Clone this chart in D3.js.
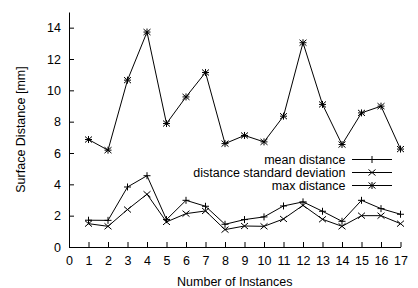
<!DOCTYPE html>
<html>
<head>
<meta charset="utf-8">
<script src="https://cdn.jsdelivr.net/npm/d3@7"></script>
<style>
body { margin: 0; background: #fff; }
svg { display: block; font-family: "Liberation Sans", Arial, sans-serif; }
</style>
</head>
<body>
<div id="chart"></div>
<script>
var instances = d3.range(1, 18);
var meanDist = [1.71, 1.70, 3.83, 4.55, 1.75, 2.98, 2.60, 1.45, 1.75, 1.92, 2.62, 2.88, 2.28, 1.64, 2.98, 2.45, 2.09];
var stdDist  = [1.49, 1.32, 2.39, 3.37, 1.60, 2.13, 2.30, 1.11, 1.34, 1.32, 1.79, 2.66, 1.77, 1.32, 2.00, 2.00, 1.49];
var maxDist  = [6.86, 6.18, 10.65, 13.72, 7.88, 9.58, 11.14, 6.60, 7.12, 6.71, 8.35, 13.04, 9.10, 6.54, 8.56, 8.99, 6.25];
var xTicks = d3.range(0, 18);
var yTicks = [0, 2, 4, 6, 8, 10, 12, 14];
var seriesNames = ["mean distance", "distance standard deviation", "max distance"];

var W = 418, H = 288;
var margin = {top: 12, right: 18, bottom: 41, left: 69};

var x = d3.scaleLinear().domain([0, 17]).range([margin.left, 400.5]);
var y = d3.scaleLinear().domain([0, 15]).range([H - margin.bottom, margin.top]);

var svg = d3.select("#chart").append("svg")
    .attr("width", W).attr("height", H);

// axes (gnuplot style, ticks pointing inward)
var xAxis = g => g
    .attr("transform", `translate(0,${y(0)})`)
    .call(d3.axisBottom(x).tickValues(xTicks).tickSizeInner(-5).tickSizeOuter(0).tickPadding(9))
var yAxis = g => g
    .attr("transform", `translate(${x(0)},0)`)
    .call(d3.axisLeft(y).tickValues(yTicks).tickSizeInner(-5).tickSizeOuter(0).tickPadding(8))

svg.append("g").call(xAxis);
svg.append("g").call(yAxis);
svg.selectAll(".tick text").attr("font-size", "12.5px").attr("fill", "#000")
    .attr("font-family", "Liberation Sans, Arial, sans-serif");
svg.selectAll(".domain, .tick line").attr("stroke", "#000");

svg.append("text")
    .attr("transform", `translate(25,${(y(0) + y(15)) / 2}) rotate(-90)`)
    .attr("text-anchor", "middle")
    .attr("font-size", "12.5px")
    .text("Surface Distance [mm]");

svg.append("text")
    .attr("x", (x(0) + x(17)) / 2)
    .attr("y", 286)
    .attr("text-anchor", "middle")
    .attr("font-size", "12.5px")
    .text("Number of Instances");

// markers
function plus(g, cx, cy) {
    g.append("path").attr("d", `M${cx-3.5},${cy}H${cx+3.5}M${cx},${cy-3.5}V${cy+3.5}`)
        .attr("stroke", "#000").attr("fill", "none");
}
function cross(g, cx, cy) {
    g.append("path").attr("d", `M${cx-3.5},${cy-3}L${cx+3.5},${cy+3}M${cx-3.5},${cy+3}L${cx+3.5},${cy-3}`)
        .attr("stroke", "#000").attr("fill", "none");
}
function star(g, cx, cy) {
    plus(g, cx, cy);
    cross(g, cx, cy);
}
var markers = [plus, cross, star];
var allData = [meanDist, stdDist, maxDist];

var line = d3.line().x((d, i) => x(instances[i])).y(d => y(d));

allData.forEach(function(vals, k) {
    var g = svg.append("g");
    g.append("path").datum(vals)
        .attr("d", line)
        .attr("fill", "none")
        .attr("stroke", "#000")
        .attr("stroke-width", 1);
    vals.forEach((v, i) => markers[k](g, x(instances[i]), y(v)));
});

// legend
var leg = svg.append("g");
seriesNames.forEach(function(name, k) {
    var ly = 159.5 + k * 13;
    leg.append("text")
        .attr("x", 345.5).attr("y", ly + 4.5)
        .attr("text-anchor", "end")
        .attr("font-size", "12.5px")
        .text(name);
    leg.append("line")
        .attr("x1", 352).attr("x2", 392)
        .attr("y1", ly).attr("y2", ly)
        .attr("stroke", "#000");
    markers[k](leg, 372, ly);
});
</script>
</body>
</html>
